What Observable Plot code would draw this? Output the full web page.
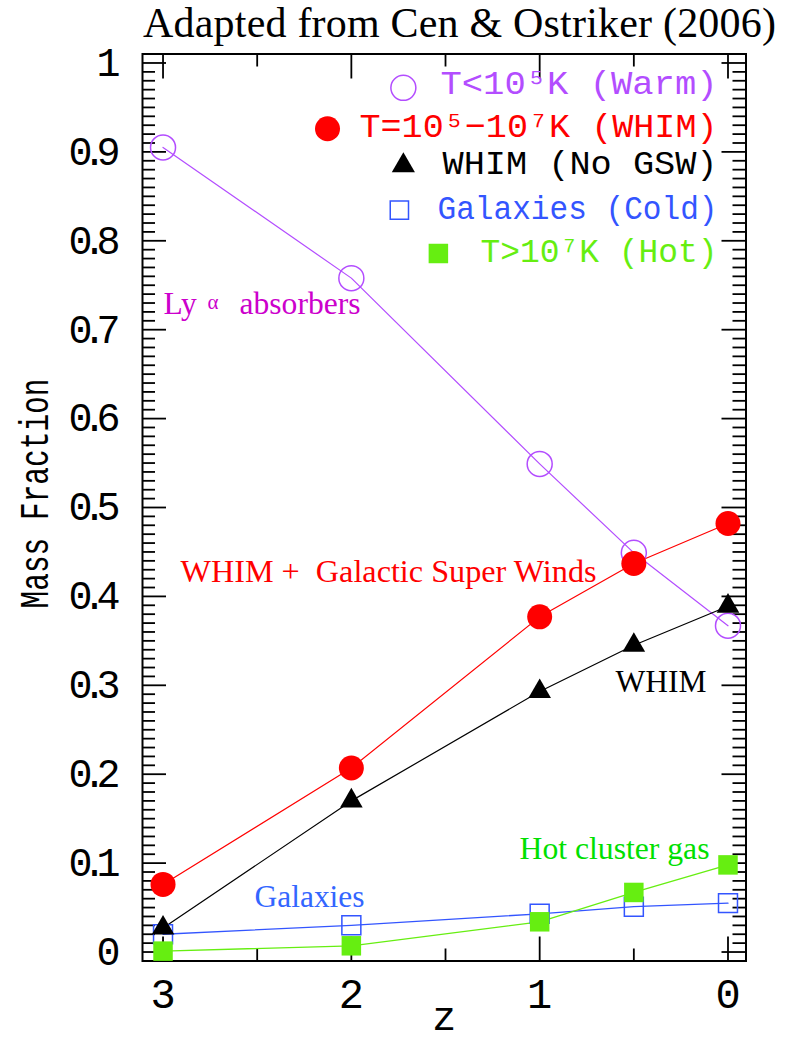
<!DOCTYPE html>
<html>
<head>
<meta charset="utf-8">
<script src="https://cdn.jsdelivr.net/npm/d3@7"></script>
<script src="https://cdn.jsdelivr.net/npm/@observablehq/plot@0.6"></script>
<style>
  body { margin: 0; background: #fff; width: 791px; height: 1041px; overflow: hidden; }
  #title { position: relative; height: 50px; }
  #title span { position: absolute; left: 143px; top: 2px; font-family: "Liberation Serif", serif; font-size: 42px; line-height: 42px; white-space: nowrap; color: #000; letter-spacing: 0.2px; }
  #chart svg { display: block; }
</style>
</head>
<body>
<div id="title"><span>Adapted from Cen &amp; Ostriker (2006)</span></div>
<div id="chart"></div>
<script>
// ---- data ----
const redshift = [3, 2, 1, 0.5, 0];
const warmFraction = [0.905, 0.758, 0.549, 0.449, 0.367];
const whimFraction = [0.076, 0.207, 0.377, 0.437, 0.482];
const whimNoGswFraction = [0.027, 0.170, 0.293, 0.345, 0.389];
const galaxyFraction = [0.020, 0.030, 0.043, 0.051, 0.055];
const hotFraction = [0.001, 0.007, 0.034, 0.067, 0.098];

const xMajorTicks = [3, 2, 1, 0];
const xMinorTicks = [2.5, 1.5, 0.5];
const xTickLabels = ["3", "2", "1", "0"];
const yMajorTicks = [0, 0.1, 0.2, 0.3, 0.4, 0.5, 0.6, 0.7, 0.8, 0.9, 1];
const yTickLabels = ["0", "0.1", "0.2", "0.3", "0.4", "0.5", "0.6", "0.7", "0.8", "0.9", "1"];
const yMinorTicks = d3.range(0, 101).filter(i => i % 10 !== 0).map(i => i / 100);

const legendLabels = ["T<10⁵K (Warm)", "T=10⁵−10⁷K (WHIM)", "WHIM (No GSW)", "Galaxies (Cold)", "T>10⁷K (Hot)"];
const yAxisLabel = "Mass Fraction";
const xAxisLabel = "z";
const lyLabel = ["Ly", "α", "absorbers"];
const gswLabel = "WHIM +  Galactic Super Winds";
const whimLabel = "WHIM";
const hotLabel = "Hot cluster gas";
const galaxiesLabel = "Galaxies";

// ---- styles ----
const purple = "#b34dff", red = "#ff0000", black = "#000000", blue = "#3355ff", green = "#66ee11";
const magenta = "#cc00cc", annGreen = "#00e000", annBlue = "#3366ff";
const MONO = "Liberation Mono", SERIF = "Liberation Serif";

const rows = redshift.map((z, i) => ({
  z, warm: warmFraction[i], whim: whimFraction[i], nogsw: whimNoGswFraction[i],
  gal: galaxyFraction[i], hot: hotFraction[i]
}));

const W = 791, H = 991;
const mL = 142, mR = 45.5, mT = 3.5, mB = 80.5;
const fW = W - mL - mR, fH = H - mT - mB;
const tickStyle = {stroke: "black", strokeWidth: 1.8};

const legendText = (i, y, fill) => Plot.text([legendLabels[i]], {
  x: 0.0557, y, text: d => d, textAnchor: "end", fill, fontSize: 34, fontFamily: MONO
});
const ann = (t, x, y, fill, fs = 31.5) => Plot.text([t], {
  x, y, text: d => d, textAnchor: "start", fill, fontSize: fs, fontFamily: SERIF
});

const chart = Plot.plot({
  width: W, height: H,
  marginLeft: mL, marginRight: mR, marginTop: mT, marginBottom: mB,
  x: {domain: [3.109, -0.0956]},
  y: {domain: [-0.0101, 1.0101]},
  style: {fontFamily: MONO, background: "white", overflow: "visible", color: "black"},
  marks: [
    // ticks (inward)
    Plot.tickY(yMinorTicks, {y: d => d, insetRight: fW - 13, ...tickStyle}),
    Plot.tickY(yMinorTicks, {y: d => d, insetLeft: fW - 13, ...tickStyle}),
    Plot.tickY(yMajorTicks, {y: d => d, insetRight: fW - 24, ...tickStyle}),
    Plot.tickY(yMajorTicks, {y: d => d, insetLeft: fW - 24, ...tickStyle}),
    Plot.tickX(xMinorTicks, {x: d => d, insetTop: fH - 12, ...tickStyle}),
    Plot.tickX(xMinorTicks, {x: d => d, insetBottom: fH - 13, ...tickStyle}),
    Plot.tickX(xMajorTicks, {x: d => d, insetTop: fH - 24, ...tickStyle}),
    Plot.tickX(xMajorTicks, {x: d => d, insetBottom: fH - 25, ...tickStyle}),
    Plot.frame({stroke: "black", strokeWidth: 2}),

    // axes labels
    Plot.axisY(yMajorTicks, {anchor: "left", tickSize: 0, tickPadding: 22, fontSize: 40, fontFamily: MONO,
      tickFormat: (d, i) => yTickLabels[i], label: null}),
    Plot.axisX(xMajorTicks, {anchor: "bottom", tickSize: 0, tickPadding: 17, fontSize: 42, fontFamily: MONO,
      tickFormat: (d, i) => xTickLabels[i], label: null}),
    Plot.text([xAxisLabel], {frameAnchor: "bottom", dy: 69, text: d => d, fontSize: 40, fontFamily: MONO}),
    Plot.text([yAxisLabel], {frameAnchor: "left", dx: -107.8, dy: 101, rotate: -90, textAnchor: "start",
      text: d => d, fontSize: 40, fontFamily: MONO}),

    // series lines
    Plot.line(rows, {x: "z", y: "warm", stroke: purple, strokeWidth: 1.2}),
    Plot.line(rows, {x: "z", y: "gal", stroke: blue, strokeWidth: 1.3}),
    Plot.line(rows, {x: "z", y: "hot", stroke: green, strokeWidth: 1.3}),
    Plot.line(rows, {x: "z", y: "nogsw", stroke: black, strokeWidth: 1.2}),
    Plot.line(rows, {x: "z", y: "whim", stroke: red, strokeWidth: 1.2}),

    // series markers
    Plot.dot(rows, {x: "z", y: "warm", r: 12.5, stroke: purple, strokeWidth: 1.5, fill: "none"}),
    Plot.dot(rows, {x: "z", y: "gal", symbol: "square", r: 10.7, stroke: blue, strokeWidth: 1.5, fill: "none"}),
    Plot.dot(rows, {x: "z", y: "hot", symbol: "square", r: 11, fill: green, stroke: "none"}),
    Plot.dot(rows, {x: "z", y: "nogsw", symbol: "triangle", r: 8.4, fill: black, stroke: "none"}),
    Plot.dot(rows, {x: "z", y: "whim", r: 12.5, fill: red, stroke: "none"}),

    // legend
    Plot.dot([0], {x: 1.7238, y: 0.972, r: 12.5, stroke: purple, strokeWidth: 1.5, fill: "none"}),
    Plot.dot([0], {x: 2.1266, y: 0.926, r: 12.5, fill: red}),
    Plot.dot([0], {x: 1.7238, y: 0.8846, symbol: "triangle", r: 8.6, fill: black}),
    Plot.dot([0], {x: 1.7450, y: 0.8346, symbol: "square", r: 10.3, stroke: blue, strokeWidth: 1.5, fill: "none"}),
    Plot.dot([0], {x: 1.5379, y: 0.7857, symbol: "square", r: 11, fill: green}),
    legendText(0, 0.9772, purple),
    legendText(1, 0.9288, red),
    legendText(2, 0.8872, black),
    legendText(3, 0.8366, blue),
    legendText(4, 0.7882, green),

    // annotations
    ann(lyLabel[0], 2.997, 0.7285, magenta),
    ann(lyLabel[1], 2.7637, 0.7314, magenta, 21),
    ann(lyLabel[2], 2.5938, 0.7285, magenta),
    ann(gswLabel, 2.907, 0.4281, red),
    ann(whimLabel, 0.5973, 0.3033, black),
    ann(hotLabel, 1.107, 0.1165, annGreen),
    ann(galaxiesLabel, 2.514, 0.0625, annBlue)
  ]
});

document.getElementById("chart").appendChild(chart);

// fit text widths to the reference
const fits = new Map([
  [legendLabels[0], [277, "spacingAndGlyphs"]],
  [legendLabels[1], [358, "spacingAndGlyphs"]],
  [legendLabels[2], [275, "spacingAndGlyphs"]],
  [legendLabels[3], [280, "spacingAndGlyphs"]],
  [legendLabels[4], [237, "spacingAndGlyphs"]],
  [yAxisLabel, [230, "spacingAndGlyphs"]],
  [lyLabel[2], [121, "spacingAndGlyphs"]],
  [gswLabel, [416, "spacingAndGlyphs"]],
  [whimLabel, [91, "spacingAndGlyphs"]],
  [hotLabel, [190, "spacingAndGlyphs"]],
  [galaxiesLabel, [110, "spacingAndGlyphs"]]
]);
yTickLabels.filter(s => s.length === 3).forEach(s => fits.set(s, [52, "spacing"]));
chart.querySelectorAll("text").forEach(t => {
  const f = fits.get(t.textContent);
  if (f) { t.setAttribute("textLength", f[0]); t.setAttribute("lengthAdjust", f[1]); }
});
</script>
</body>
</html>
